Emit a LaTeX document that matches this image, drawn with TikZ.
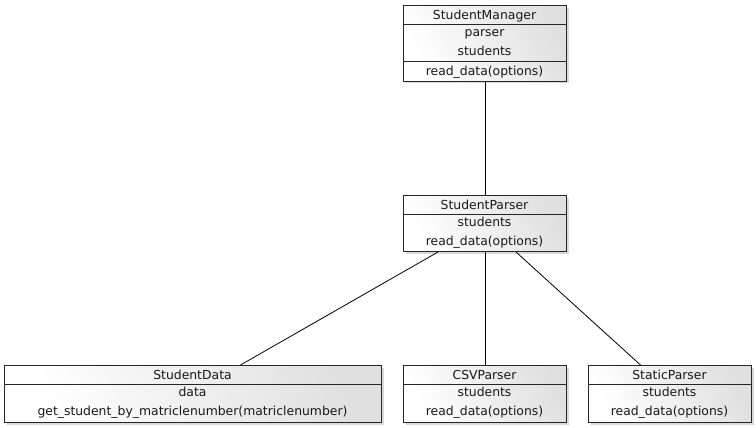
\documentclass[tikz,border=0pt]{standalone}
\usepackage{fontspec}
\setmainfont{DejaVu Sans}
\usetikzlibrary{shadows}
\tikzset{%
    cls/.style={draw=black!85, line width=1pt, inner sep=0pt, anchor=north west,
        left color=white, right color=black!12, shading angle=115,
        drop shadow={shadow xshift=2pt, shadow yshift=-2pt, opacity=0.3}},
    txt/.style={font=\fontsize{12.4}{14}\selectfont, inner sep=0pt, anchor=base, text=black!90},
    sep/.style={draw=black!85, line width=1pt},
    lnk/.style={line width = 0.8pt}
}
\begin{document}
\begin{tikzpicture}[x=1pt,y=-1pt]
    \useasboundingbox (0,0) rectangle (756,428);
    % classes
    \node [cls, minimum width=163pt, minimum height=75.5pt] (mgr) at (403,5.5) {};
    \node [cls, minimum width=163pt, minimum height=56pt] (par) at (403,195) {};
    \node [cls, minimum width=377pt, minimum height=57pt] (dat) at (4,365) {};
    \node [cls, minimum width=163pt, minimum height=57pt] (csv) at (403,365) {};
    \node [cls, minimum width=163pt, minimum height=57pt] (sta) at (588,365) {};
    % compartments
    \draw [sep] (mgr.west|-0,24.5)--(mgr.east|-0,24.5);
    \draw [sep] (mgr.west|-0,62)--(mgr.east|-0,62);
    \draw [sep] (par.west|-0,214)--(par.east|-0,214);
    \draw [sep] (dat.west|-0,384)--(dat.east|-0,384);
    \draw [sep] (csv.west|-0,384)--(csv.east|-0,384);
    \draw [sep] (sta.west|-0,384)--(sta.east|-0,384);
    % texts
    \node [txt] (mgrname) at (484.5,19.5) {StudentManager};
    \node [txt] (mgra) at (484.5,37) {parser};
    \node [txt] (mgrb) at (484.5,56) {students};
    \node [txt] (mgrm) at (484.5,76) {read\_data(options)};
    \node [txt] (parname) at (484.5,209) {StudentParser};
    \node [txt] (para) at (484.5,226) {students};
    \node [txt] (parm) at (484.5,245) {read\_data(options)};
    \node [txt] (datname) at (192.5,379) {StudentData};
    \node [txt] (data) at (192.5,396) {data};
    \node [txt] (datm) at (192.5,415) {get\_student\_by\_matriclenumber(matriclenumber)};
    \node [txt] (csvname) at (484.5,379) {CSVParser};
    \node [txt] (csva) at (484.5,396) {students};
    \node [txt] (csvm) at (484.5,415) {read\_data(options)};
    \node [txt] (staname) at (669.5,379) {StaticParser};
    \node [txt] (staa) at (669.5,396) {students};
    \node [txt] (stam) at (669.5,415) {read\_data(options)};
    % associations
    \draw [lnk] (mgr.south)--(par.north);
    \draw [lnk] ([xshift=-47pt]par.south)--([xshift=47.5pt]dat.north);
    \draw [lnk] (par.south)--(csv.north);
    \draw [lnk] ([xshift=31pt]par.south)--([xshift=-29.5pt]sta.north);
\end{tikzpicture}
\end{document}
